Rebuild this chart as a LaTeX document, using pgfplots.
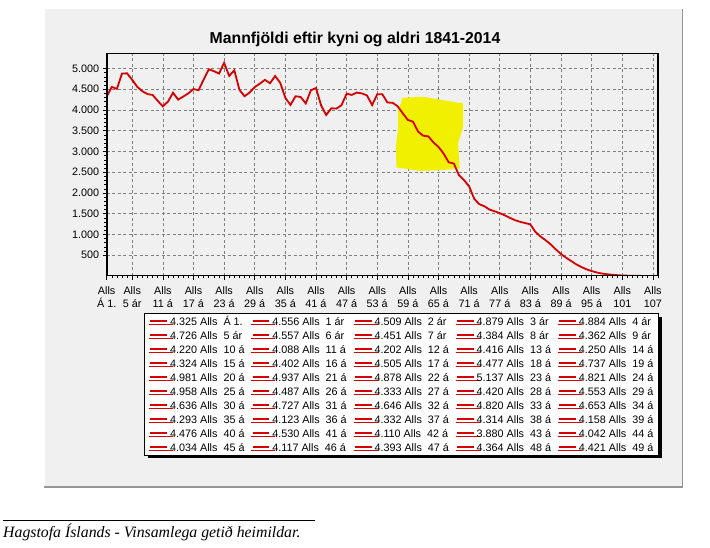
\documentclass[border=0pt]{standalone}
\usepackage{pgfplots}
\pgfplotsset{compat=1.18}
\usepackage{fontspec}
\setmainfont{Liberation Sans}
\newfontfamily\footserif{Liberation Serif}
\usetikzlibrary{shadows}
\definecolor{panelgray}{RGB}{240,240,240}
\definecolor{myred}{RGB}{215,0,0}
\definecolor{hl}{RGB}{240,240,0}
\definecolor{gridgray}{RGB}{128,128,128}
\definecolor{bordergray}{RGB}{150,150,150}
\newcommand{\LE}[2]{\addlegendimage{myred}\addlegendentry{\makebox[78.2pt][l]{#1 Alls\hspace{6pt}#2}}}
\pgfplotstableread{
i v
0 4325
1 4556
2 4509
3 4879
4 4884
5 4726
6 4557
7 4451
8 4384
9 4362
10 4220
11 4088
12 4202
13 4416
14 4250
15 4324
16 4402
17 4505
18 4477
19 4737
20 4981
21 4937
22 4878
23 5137
24 4821
25 4958
26 4487
27 4333
28 4420
29 4553
30 4636
31 4727
32 4646
33 4820
34 4653
35 4293
36 4123
37 4332
38 4314
39 4158
40 4476
41 4530
42 4110
43 3880
44 4042
45 4034
46 4117
47 4393
48 4364
49 4421
50 4400
51 4350
52 4120
53 4380
54 4380
55 4180
56 4175
57 4090
58 3920
59 3760
60 3720
61 3480
62 3380
63 3365
64 3220
65 3110
66 2950
67 2740
68 2710
69 2430
70 2310
71 2160
72 1860
73 1730
74 1680
75 1600
76 1560
77 1515
78 1460
79 1400
80 1345
81 1305
82 1275
83 1245
84 1060
85 950
86 860
87 760
88 640
89 530
90 440
91 360
92 280
93 215
94 160
95 120
96 85
97 60
98 42
99 30
100 20
101 12
102 8
103 5
104 3
105 2
106 1
107 1
108 0
}\datatable
\begin{document}
\begin{tikzpicture}[x=1pt,y=1pt]
\path[use as bounding box] (0,0) rectangle (710,548);
\fill[white] (0,0) rectangle (710,548);
\fill[panelgray] (45,61) rectangle (682,539);
\draw[bordergray, line width=1.2pt] (44,61) -- (682.5,61) -- (682.5,539);
\node[font=\fontsize{15.8}{18}\selectfont\bfseries] at (355,509) {Mannfjöldi eftir kyni og aldri 1841-2014};
\begin{axis}[
  at={(106.7pt,272pt)}, anchor=south west,
  scale only axis, width=551.3pt, height=222pt,
  xmin=0, xmax=108, ymin=0, ymax=5350,
  axis background/.style={fill=panelgray},
  axis line style={line width=1pt},
  xtick={0,5,11,17,23,29,35,41,47,53,59,65,71,77,83,89,95,101,107},
  xticklabels={{Alls\\Á 1.},{Alls\\5 ár},{Alls\\11 á},{Alls\\17 á},{Alls\\23 á},{Alls\\29 á},{Alls\\35 á},{Alls\\41 á},{Alls\\47 á},{Alls\\53 á},{Alls\\59 á},{Alls\\65 á},{Alls\\71 á},{Alls\\77 á},{Alls\\83 á},{Alls\\89 á},{Alls\\95 á},{Alls\\101},{Alls\\107}},
  minor xtick={0,1,...,108},
  ytick={500,1000,...,5000},
  yticklabels={500,1.000,1.500,2.000,2.500,3.000,3.500,4.000,4.500,5.000},
  minor y tick num=4,
  tick align=outside, xtick pos=left, ytick pos=left,
  major tick length=4pt, minor tick length=2.5pt,
  tick style={black, line width=0.6pt},
  grid=major,
  major grid style={gridgray, dash pattern=on 3pt off 2.5pt, line width=0.7pt},
  tick label style={font=\fontsize{10.8}{13}\selectfont},
  xticklabel style={align=center, font=\fontsize{10.8}{13}\selectfont, yshift=-3.5pt},
  legend columns=5,
  legend style={at={(0.0682,-0.168)}, anchor=north west, draw=black, line width=0.8pt, fill=white,
    inner xsep=1.4pt, inner ysep=0.7pt, font=\fontsize{10.8}{13}\selectfont,
    nodes={inner sep=0pt, text height=10.9pt, text depth=3.1pt},
    drop shadow={shadow xshift=3pt, shadow yshift=-3pt, fill=black, opacity=1},
    cells={anchor=center}},
  legend image code/.code={\path[draw=none] (-4.3pt,0pt) -- (19.7pt,0pt); \draw[line width=1.8pt] (0pt,0pt) -- (16.7pt,0pt);},
]
\addplot[fill=hl, draw=none, forget plot] coordinates {
(57.87,4294) (61.98,4318) (67.85,4197) (69.81,4159) (69.81,3595) (68.83,3194)
(69.15,2592) (65.25,2551) (61.34,2534) (56.77,2616) (56.64,3112) (57.09,3556)
(57.09,3997) (57.87,4238)} -- cycle;
\addplot[myred, line width=1.8pt, forget plot] table[x=i, y=v] {\datatable};
\draw[black, line width=1.8pt] (rel axis cs:0,1) -- (rel axis cs:0,0) -- (rel axis cs:1,0) -- (rel axis cs:1,1);
\LE{4.325}{Á 1.}\LE{4.556}{1 ár}\LE{4.509}{2 ár}\LE{4.879}{3 ár}\LE{4.884}{4 ár}
\LE{4.726}{5 ár}\LE{4.557}{6 ár}\LE{4.451}{7 ár}\LE{4.384}{8 ár}\LE{4.362}{9 ár}
\LE{4.220}{10 á}\LE{4.088}{11 á}\LE{4.202}{12 á}\LE{4.416}{13 á}\LE{4.250}{14 á}
\LE{4.324}{15 á}\LE{4.402}{16 á}\LE{4.505}{17 á}\LE{4.477}{18 á}\LE{4.737}{19 á}
\LE{4.981}{20 á}\LE{4.937}{21 á}\LE{4.878}{22 á}\LE{5.137}{23 á}\LE{4.821}{24 á}
\LE{4.958}{25 á}\LE{4.487}{26 á}\LE{4.333}{27 á}\LE{4.420}{28 á}\LE{4.553}{29 á}
\LE{4.636}{30 á}\LE{4.727}{31 á}\LE{4.646}{32 á}\LE{4.820}{33 á}\LE{4.653}{34 á}
\LE{4.293}{35 á}\LE{4.123}{36 á}\LE{4.332}{37 á}\LE{4.314}{38 á}\LE{4.158}{39 á}
\LE{4.476}{40 á}\LE{4.530}{41 á}\LE{4.110}{42 á}\LE{3.880}{43 á}\LE{4.042}{44 á}
\LE{4.034}{45 á}\LE{4.117}{46 á}\LE{4.393}{47 á}\LE{4.364}{48 á}\LE{4.421}{49 á}
\end{axis}
\draw[black, line width=0.9pt] (3.3,27.3) -- (315,27.3);
\node[anchor=base west, inner sep=0pt, font=\footserif\itshape\fontsize{15.8}{18}\selectfont] at (3,10) {Hagstofa Íslands - Vinsamlega getið heimildar.};
\end{tikzpicture}
\end{document}
